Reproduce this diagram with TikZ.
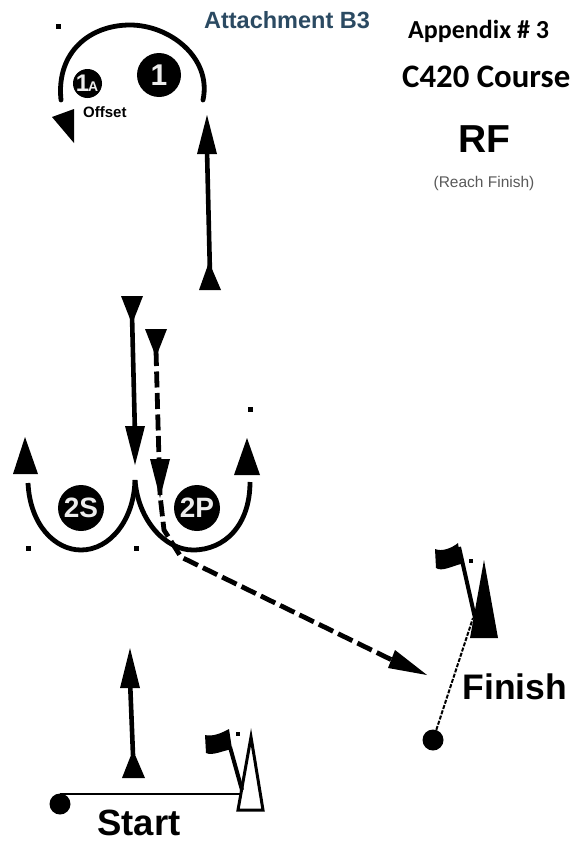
\documentclass[tikz,border=0pt]{standalone}
\usepackage{fontspec}
\setmainfont{Liberation Sans}
\newfontfamily\carl{Carlito}
\definecolor{attach}{HTML}{2B4A62}
\definecolor{badgetext}{HTML}{EDEDED}
\tikzset{
 px/.style={x=1pt,y=-1pt},
 solidline/.style={line width=4.6pt,black},
 thinarc/.style={line width=4.8pt,black,line cap=round},
 dashline/.style={line width=4.8pt,black,dash pattern=on 16pt off 5.5pt},
 head/.style={fill=black,draw=none},
 badge/.style={circle,fill=black,inner sep=0pt,text=badgetext,font=\bfseries},
 mark point/.style={rectangle,fill=black,inner sep=0pt,minimum size=5pt},
 buoy/.style={circle,fill=black,inner sep=0pt,minimum size=21pt},
 lbl/.style={inner sep=0pt,font=\bfseries},
}
\begin{document}
\begin{tikzpicture}[px]
\useasboundingbox (0,0) rectangle (571,846);
% texts
\node[lbl,text=attach,font=\bfseries\fontsize{23.5}{26}\selectfont] (att) at (287,20) {Attachment B3};
\node[lbl,font=\carl\bfseries\fontsize{26}{28}\selectfont,anchor=west] (app) at (408,31) {Appendix \# 3};
\node[lbl,font=\carl\bfseries\fontsize{32.8}{36}\selectfont,anchor=west] (crs) at (402,77) {C420 Course};
\node[lbl,font=\bfseries\fontsize{39}{41}\selectfont] (rf) at (484,139) {RF};
\node[lbl,font=\mdseries\fontsize{15.5}{17}\selectfont,text=black!65] (rfn) at (484,183) {(Reach Finish)};
\node[lbl,font=\bfseries\fontsize{15}{17}\selectfont,anchor=west] (off) at (83,112) {Offset};
\node[lbl,font=\bfseries\fontsize{35.5}{38}\selectfont] (fin) at (515,687) {Finish};
\node[lbl,font=\bfseries\fontsize{36.5}{38}\selectfont] (sta) at (139,823) {Start};
% marks
\node[mark point] (m1) at (58,26) {};
\node[mark point] (m2) at (250,409) {};
\node[mark point] (m3) at (28,548) {};
\node[mark point] (m4) at (136,548) {};
\node[mark point,minimum size=3.5pt] (m5) at (471,561) {};
\node[mark point,minimum size=3.5pt] (m6) at (238,734) {};
% badges
\node[badge,minimum size=44pt,font=\bfseries\fontsize{30}{32}\selectfont] (b1) at (159,75) {1};
\node[badge,minimum size=29pt,font=\bfseries\fontsize{24}{26}\selectfont] (b1a) at (87.5,83.5) {\kern-1pt 1\kern-1pt\fontsize{14}{16}\selectfont A};
\node[badge,minimum size=46pt,font=\bfseries\fontsize{28}{30}\selectfont] (b2s) at (81,508) {2S};
\node[badge,minimum size=46pt,font=\bfseries\fontsize{28}{30}\selectfont] (b2p) at (197,508) {2P};
% top arc
\coordinate (aL) at (61,100); \coordinate (aR) at (203,100);
\draw[thinarc] (aL) .. controls (56,52) and (90,25) .. (130,25) .. controls (170,25) and (212,58) .. (aR);
\fill[head] (52,117) -- (74,109) -- (74,143) -- cycle;
% upward run to mark 1
\coordinate (u1) at (210,275); \coordinate (u2) at (207,150);
\draw[solidline] (u1) -- (u2);
\fill[head] (207,115) -- (217,154) -- (197,154) -- cycle;
\fill[head] (209,262) -- (221,290) -- (199,290) -- cycle;
% down run to gate
\coordinate (d1) at (132,315); \coordinate (d2) at (135,435);
\draw[solidline] (d1) -- (d2);
\fill[head] (121,296) -- (143,296) -- (132,324) -- cycle;
\fill[head] (125,426) -- (145,426) -- (135,465) -- cycle;
% gate arcs
\coordinate (gL) at (28,483); \coordinate (gM) at (135,480); \coordinate (gR) at (250,482);
\draw[thinarc,line cap=butt] (gL) .. controls (30,525) and (55,550) .. (81,550) .. controls (110,550) and (134,520) .. (gM);
\draw[thinarc,line cap=butt] (gM) .. controls (138,520) and (165,550) .. (193,550) .. controls (225,550) and (250,525) .. (gR);
\fill[head] (25,437) -- (38,474) -- (13,474) -- cycle;
\fill[head] (247,438) -- (260,475) -- (234,475) -- cycle;
% dashed course to finish
\coordinate (p1) at (156,350); \coordinate (p2) at (160,495);
\draw[dashline] (p1) -- (159,460) -- (p2) -- (164,530) -- (181,557) -- (392,660);
\fill[head] (145,329) -- (167,329) -- (156,357) -- cycle;
\fill[head] (150,459) -- (170,459) -- (160,498) -- cycle;
\fill[head] (427,675) -- (395,650) -- (388,668) -- cycle;
% finish line
\node[buoy] (fb) at (433,740) {};
\coordinate (ft) at (473,618);
\draw[line width=2pt,dash pattern=on 4pt off 1.5pt] (fb) -- (ft);
\fill[head] (484,560) -- (498,638) -- (470,638) -- cycle;
\draw[line width=4pt] (459,547) -- (475,618);
\fill[head] (435,549) .. controls (442,552) and (452,548) .. (458,543) -- (461,564) .. controls (452,566) and (442,572) .. (436,568) -- cycle;
% start line
\node[buoy] (sb) at (60,804) {};
\coordinate (st) at (240,794);
\draw[line width=2pt] (60,794) -- (st);
\draw[line width=3pt,fill=white,line join=miter] (251,737) -- (263,810) -- (238,810) -- cycle;
\draw[line width=4pt] (230,747) -- (242,790);
\fill[head] (205,735) .. controls (212,737) and (222,733) .. (229,729) -- (232,749) .. controls (222,751) and (212,756) .. (206,753) -- cycle;
% start arrow
\coordinate (s1) at (133,755); \coordinate (s2) at (130,680);
\draw[solidline] (s1) -- (s2);
\fill[head] (130,648) -- (140,688) -- (120,688) -- cycle;
\fill[head] (133,750) -- (145,778) -- (122,778) -- cycle;
\end{tikzpicture}
\end{document}
